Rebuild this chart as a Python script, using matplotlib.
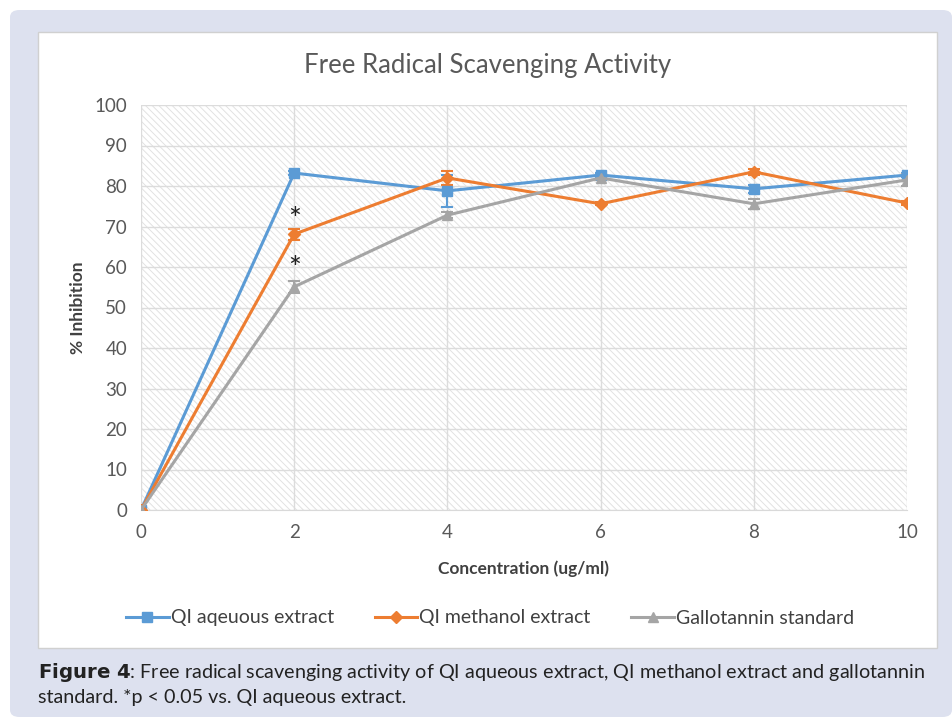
import matplotlib
matplotlib.use("Agg")
import matplotlib.pyplot as plt
from matplotlib.patches import FancyBboxPatch, Rectangle
from matplotlib.lines import Line2D

plt.rcParams['font.family'] = ['Lato', 'DejaVu Sans']
plt.rcParams['hatch.linewidth'] = 0.7

conc = [0, 2, 4, 6, 8, 10]
aqueous = [0, 83.2, 78.8, 82.7, 79.3, 82.7]
aqueous_err = [0, 0.6, 4.0, 0.5, 1.0, 0.6]
methanol = [0, 68.1, 82.0, 75.6, 83.5, 75.8]
methanol_err = [0, 1.4, 1.8, 0.4, 0.8, 0.4]
gallo = [0, 55.1, 72.8, 82.0, 75.6, 81.5]
gallo_err = [0, 1.5, 0.8, 0.6, 1.2, 1.4]
labels = ["QI aqeuous extract", "QI methanol extract", "Gallotannin standard"]
star_x = [2, 2]
star_y = [71.5, 59.5]

fig = plt.figure(figsize=(9.52, 7.17), dpi=100)
W, H = 952, 717

# background panels
fig.patches.append(FancyBboxPatch((10 / W, 0), (W - 10) / W, (H - 10) / H,
                                  boxstyle="round,pad=0,rounding_size=0.01",
                                  transform=fig.transFigure, facecolor='#dde1ef',
                                  edgecolor='none', zorder=-10))
fig.patches.append(Rectangle((38 / W, (H - 648) / H), (937 - 38) / W, (648 - 32) / H,
                             transform=fig.transFigure, facecolor='white',
                             edgecolor='#d0d0d0', linewidth=1, zorder=-9))

ax = fig.add_axes([141 / W, (H - 510) / H, (907 - 141) / W, (510 - 105) / H])
ax.set_facecolor('white')
ax.add_patch(Rectangle((0, 0), 1, 1, transform=ax.transAxes, facecolor='white',
                       edgecolor='#e2e2e2', linewidth=0, hatch='\\\\\\\\\\', zorder=0))

colors = ['#5b9bd5', '#ed7d31', '#a5a5a5']
markers = ['s', 'D', '^']
msizes = [7, 6, 7]
series = [(aqueous, aqueous_err), (methanol, methanol_err), (gallo, gallo_err)]
handles = []
for (vals, errs), c, m, ms, lab in zip(series, colors, markers, msizes, labels):
    ax.errorbar(conc, vals, yerr=errs, color=c, marker=m, markersize=ms, linewidth=2.2,
                elinewidth=1.5, capsize=4, capthick=1.5, zorder=3)
    handles.append(Line2D([], [], color=c, marker=m, markersize=ms, linewidth=2.2, label=lab))

for x, y in zip(star_x, star_y):
    ax.text(x, y, '*', ha='center', va='center', fontsize=22, color='#222222', zorder=4)

ax.set_xlim(0, 10)
ax.set_ylim(0, 100)
ax.set_xticks(conc)
ax.set_yticks(range(0, 101, 10))
ax.grid(True, color='#dcdcdc', linewidth=1, zorder=1)
ax.set_axisbelow(True)
for s in ax.spines.values():
    s.set_visible(False)
ax.spines['bottom'].set_visible(True)
ax.spines['bottom'].set_color('#d9d9d9')
ax.tick_params(length=0, labelsize=13.5, colors='#595959', pad=10)

ax.set_xlabel('Concentration (ug/ml)', fontsize=12.5, fontweight='bold', color='#404040', labelpad=14)
ax.set_ylabel('% Inhibition', fontsize=12.5, fontweight='bold', color='#404040', labelpad=6)

fig.text(488 / W, 1 - 65 / H, 'Free Radical Scavenging Activity', ha='center', va='center',
         fontsize=18.5, color='#595959')

fig.legend(handles=handles, loc='center', bbox_to_anchor=(490 / W, 1 - 618 / H), ncol=3,
           frameon=False, fontsize=14, handlelength=2.2, handletextpad=0.1,
           columnspacing=2.1, labelcolor='#404040')

fig.text(38 / W, 1 - 673 / H, r'$\bf{Figure\ 4}$: Free radical scavenging activity of QI aqueous extract, QI methanol extract and gallotannin',
         ha='left', va='center', fontsize=14.2, color='#222222')
fig.text(38 / W, 1 - 697 / H, 'standard. *p < 0.05 vs. QI aqueous extract.',
         ha='left', va='center', fontsize=14.2, color='#222222')

fig.savefig('out.png', dpi=100)
